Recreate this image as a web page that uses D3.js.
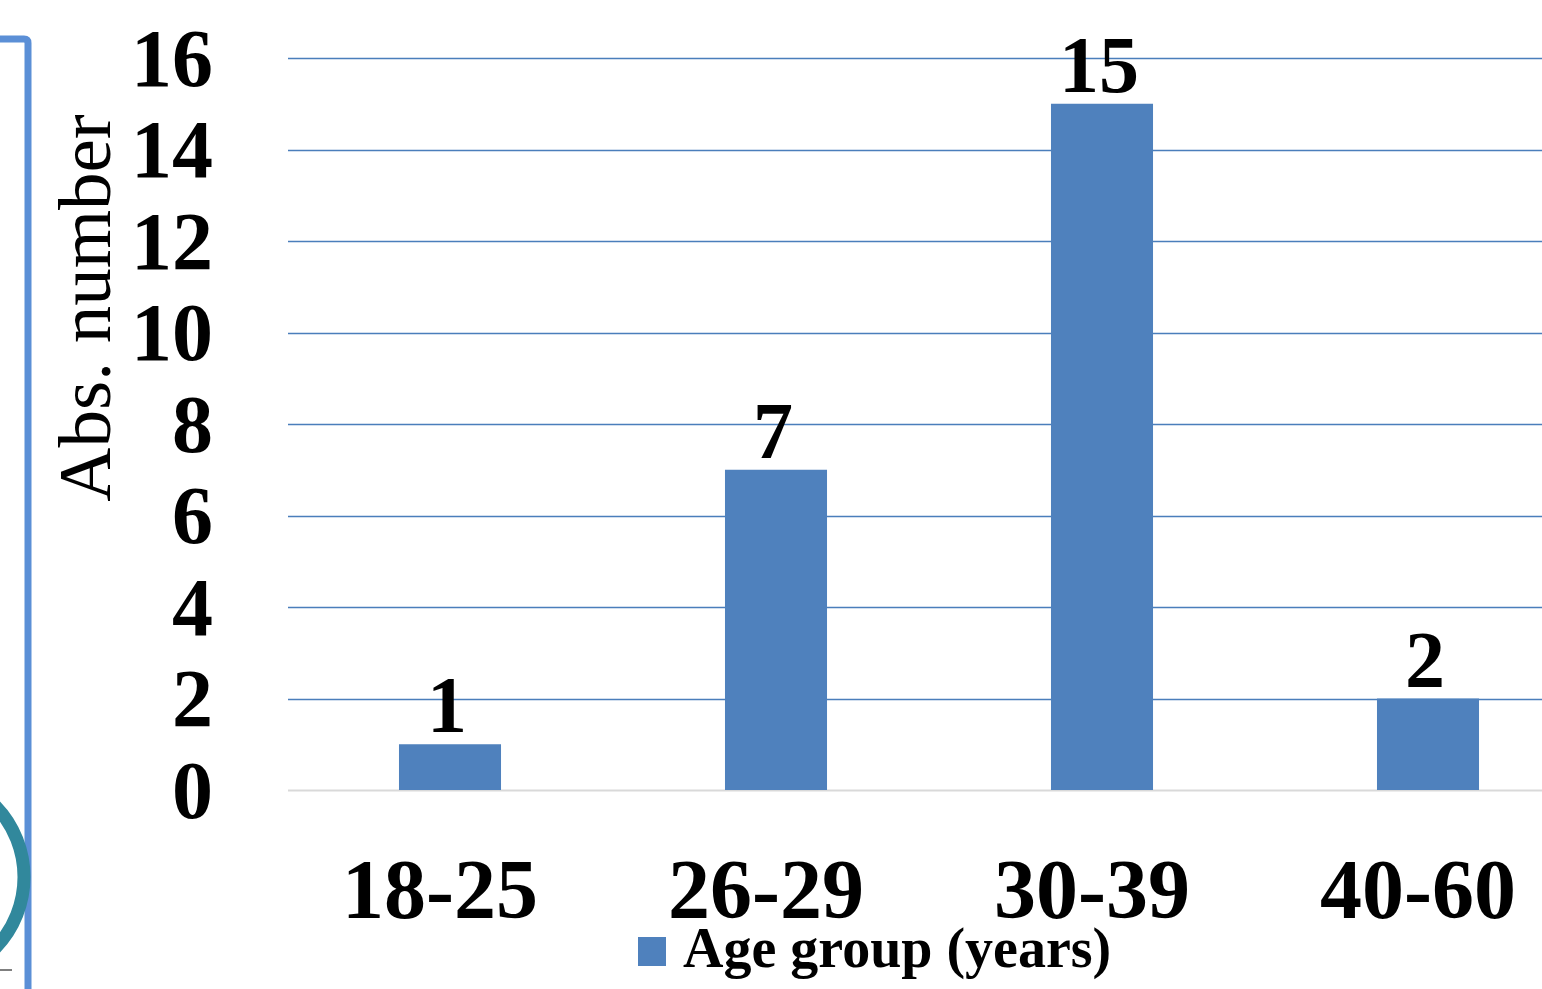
<!doctype html>
<html lang="en">
<head>
  <meta charset="utf-8">
  <title>Age group bar chart</title>
  <script src="https://d3js.org/d3.v7.min.js"></script>
  <style>
    html, body { margin: 0; padding: 0; background: #fff; overflow: hidden; }
    svg { display: block; font-family: "Liberation Serif", "Times New Roman", serif; }
  </style>
</head>
<body>
  <div id="chart"></div>
  <script>
    const categories = ["18-25", "26-29", "30-39", "40-60"];
    const counts = [1, 7, 15, 2];
    const yTicks = [0, 2, 4, 6, 8, 10, 12, 14, 16];
    const seriesName = "Age group (years)";
    const yTitle = "Abs. number";

    const width = 1542, height = 989;
    const barColor = "#4f81bd";

    const svg = d3.select('#chart').append('svg')
      .attr('width', width).attr('height', height);

    // bits of the surrounding slide that got cropped into the picture
    svg.append('path')
      .attr('d', 'M-5,39 L24,39 Q28,39 28,43 L28,995')
      .attr('fill', 'none').attr('stroke', '#5b8fd6').attr('stroke-width', 7);
    svg.append('circle')
      .attr('cx', -78).attr('cy', 877).attr('r', 102)
      .attr('fill', 'none').attr('stroke', '#31889c').attr('stroke-width', 13);
    svg.append('line')
      .attr('x1', 0).attr('x2', 12).attr('y1', 970).attr('y2', 970)
      .attr('stroke', '#7f7f7f').attr('stroke-width', 2);

    const x = d3.scaleBand()
      .domain(categories)
      .range([287, 287 + 4 * 326])
      .paddingInner(0.687)
      .paddingOuter(0.3435);

    const y = d3.scaleLinear()
      .domain([0, 16])
      .range([790, 58]);

    // gridlines
    svg.append('g').selectAll('line')
      .data(yTicks)
      .join('line')
        .attr('x1', 288).attr('x2', width + 10)
        .attr('y1', d => Math.round(y(d)) + 0.5).attr('y2', d => Math.round(y(d)) + 0.5)
        .attr('stroke', d => d === 0 ? '#d9d9d9' : '#4a7ebb')
        .attr('stroke-width', d => d === 0 ? 2 : 1.5);

    // y tick labels
    svg.append('g').selectAll('text')
      .data(yTicks)
      .join('text')
        .attr('x', 213)
        .attr('y', d => y(d))
        .attr('dy', '0.34em')
        .attr('text-anchor', 'end')
        .attr('font-size', 82).attr('font-weight', 'bold')
        .text(d => d);

    // y title
    svg.append('text')
      .attr('transform', `translate(110,${308}) rotate(-90)`)
      .attr('text-anchor', 'middle')
      .attr('font-size', 75)
      .text(yTitle);

    // bars
    svg.append('g').selectAll('rect')
      .data(counts)
      .join('rect')
        .attr('x', (d, i) => x(categories[i]))
        .attr('y', d => y(d))
        .attr('width', x.bandwidth())
        .attr('height', d => y(0) - y(d))
        .attr('fill', barColor);

    // value labels
    svg.append('g').selectAll('text')
      .data(counts)
      .join('text')
        .attr('x', (d, i) => x(categories[i]) + x.bandwidth() / 2 - 3)
        .attr('y', d => y(d) - 12)
        .attr('text-anchor', 'middle')
        .attr('font-size', 80).attr('font-weight', 'bold')
        .text(d => d);

    // category labels (sit a little left of the bar centres)
    svg.append('g').selectAll('text')
      .data(categories)
      .join('text')
        .attr('x', d => x(d) + x.bandwidth() / 2 - 10)
        .attr('y', 918)
        .attr('text-anchor', 'middle')
        .attr('font-size', 84).attr('font-weight', 'bold')
        .text(d => d);

    // legend
    const legend = svg.append('g').attr('transform', 'translate(638,937)');
    legend.append('rect').attr('width', 28).attr('height', 29).attr('fill', barColor);
    legend.append('text')
      .attr('x', 45).attr('y', 30)
      .attr('font-size', 56).attr('font-weight', 'bold')
      .text(seriesName);
  </script>
</body>
</html>
